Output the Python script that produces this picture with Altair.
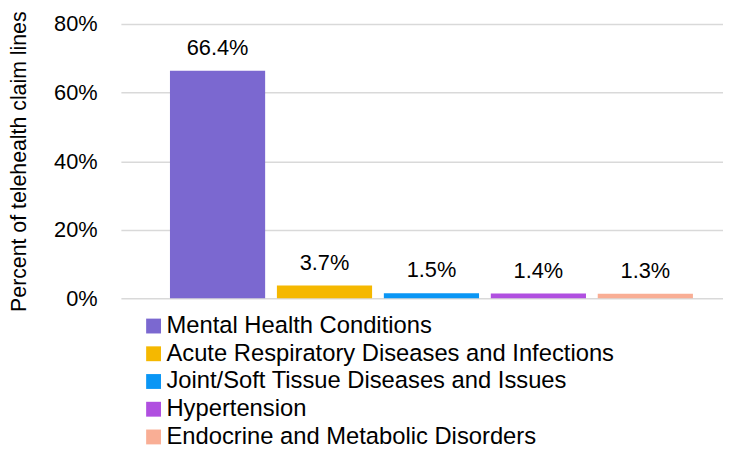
import altair as alt
import pandas as pd

categories = [
    "Mental Health Conditions",
    "Acute Respiratory Diseases and Infections",
    "Joint/Soft Tissue Diseases and Issues",
    "Hypertension",
    "Endocrine and Metabolic Disorders",
]
values = [0.664, 0.037, 0.015, 0.014, 0.013]
labels = ["66.4%", "3.7%", "1.5%", "1.4%", "1.3%"]
colors = ["#7B68D0", "#F5B800", "#0A96F5", "#B04FE0", "#F9AE95"]

df = pd.DataFrame({"cat": categories, "val": values, "lab": labels})

FONT = "Liberation Sans"

x = alt.X("cat:N", sort=categories, axis=None,
          scale=alt.Scale(paddingInner=0.11, paddingOuter=0.37, align=0.62))
y = alt.Y("val:Q",
          scale=alt.Scale(domain=[0, 0.8]),
          axis=alt.Axis(values=[0, 0.2, 0.4, 0.6, 0.8], format=".0%",
                        title="Percent of telehealth claim lines",
                        titleFont=FONT, titleFontSize=21.5, titleFontWeight="normal",
                        titleColor="#000", titlePadding=23,
                        labelFont=FONT, labelFontSize=22, labelColor="#000",
                        labelPadding=24, ticks=False, domain=False,
                        grid=True, gridColor="#D9D9D9", gridWidth=1.5))

bars = alt.Chart(df).mark_bar().encode(
    x=x, y=y,
    color=alt.Color("cat:N", sort=categories,
                    scale=alt.Scale(domain=categories, range=colors),
                    legend=alt.Legend(title=None, orient="none", legendX=21, legendY=293,
                                      direction="vertical",
                                      symbolType="square", symbolSize=225,
                                      symbolStrokeWidth=0, symbolOpacity=1,
                                      labelFont=FONT, labelFontSize=24, labelColor="#000",
                                      labelOffset=1, rowPadding=4, padding=0,
                                      labelLimit=650)),
)

text = alt.Chart(df).mark_text(baseline="bottom", dy=-11, font=FONT, fontSize=22,
                               color="#000").encode(
    x=alt.X("cat:N", sort=categories), y="val:Q", text="lab:N")

chart = alt.layer(bars, text).properties(
    width=608, height=277,
    autosize=alt.AutoSizeParams(type="none"),
    padding={"left": 114, "top": 14, "right": 0, "bottom": 149},
).configure_view(stroke=None)

chart.save("out.html", embed_options={"renderer": "svg", "actions": False})
